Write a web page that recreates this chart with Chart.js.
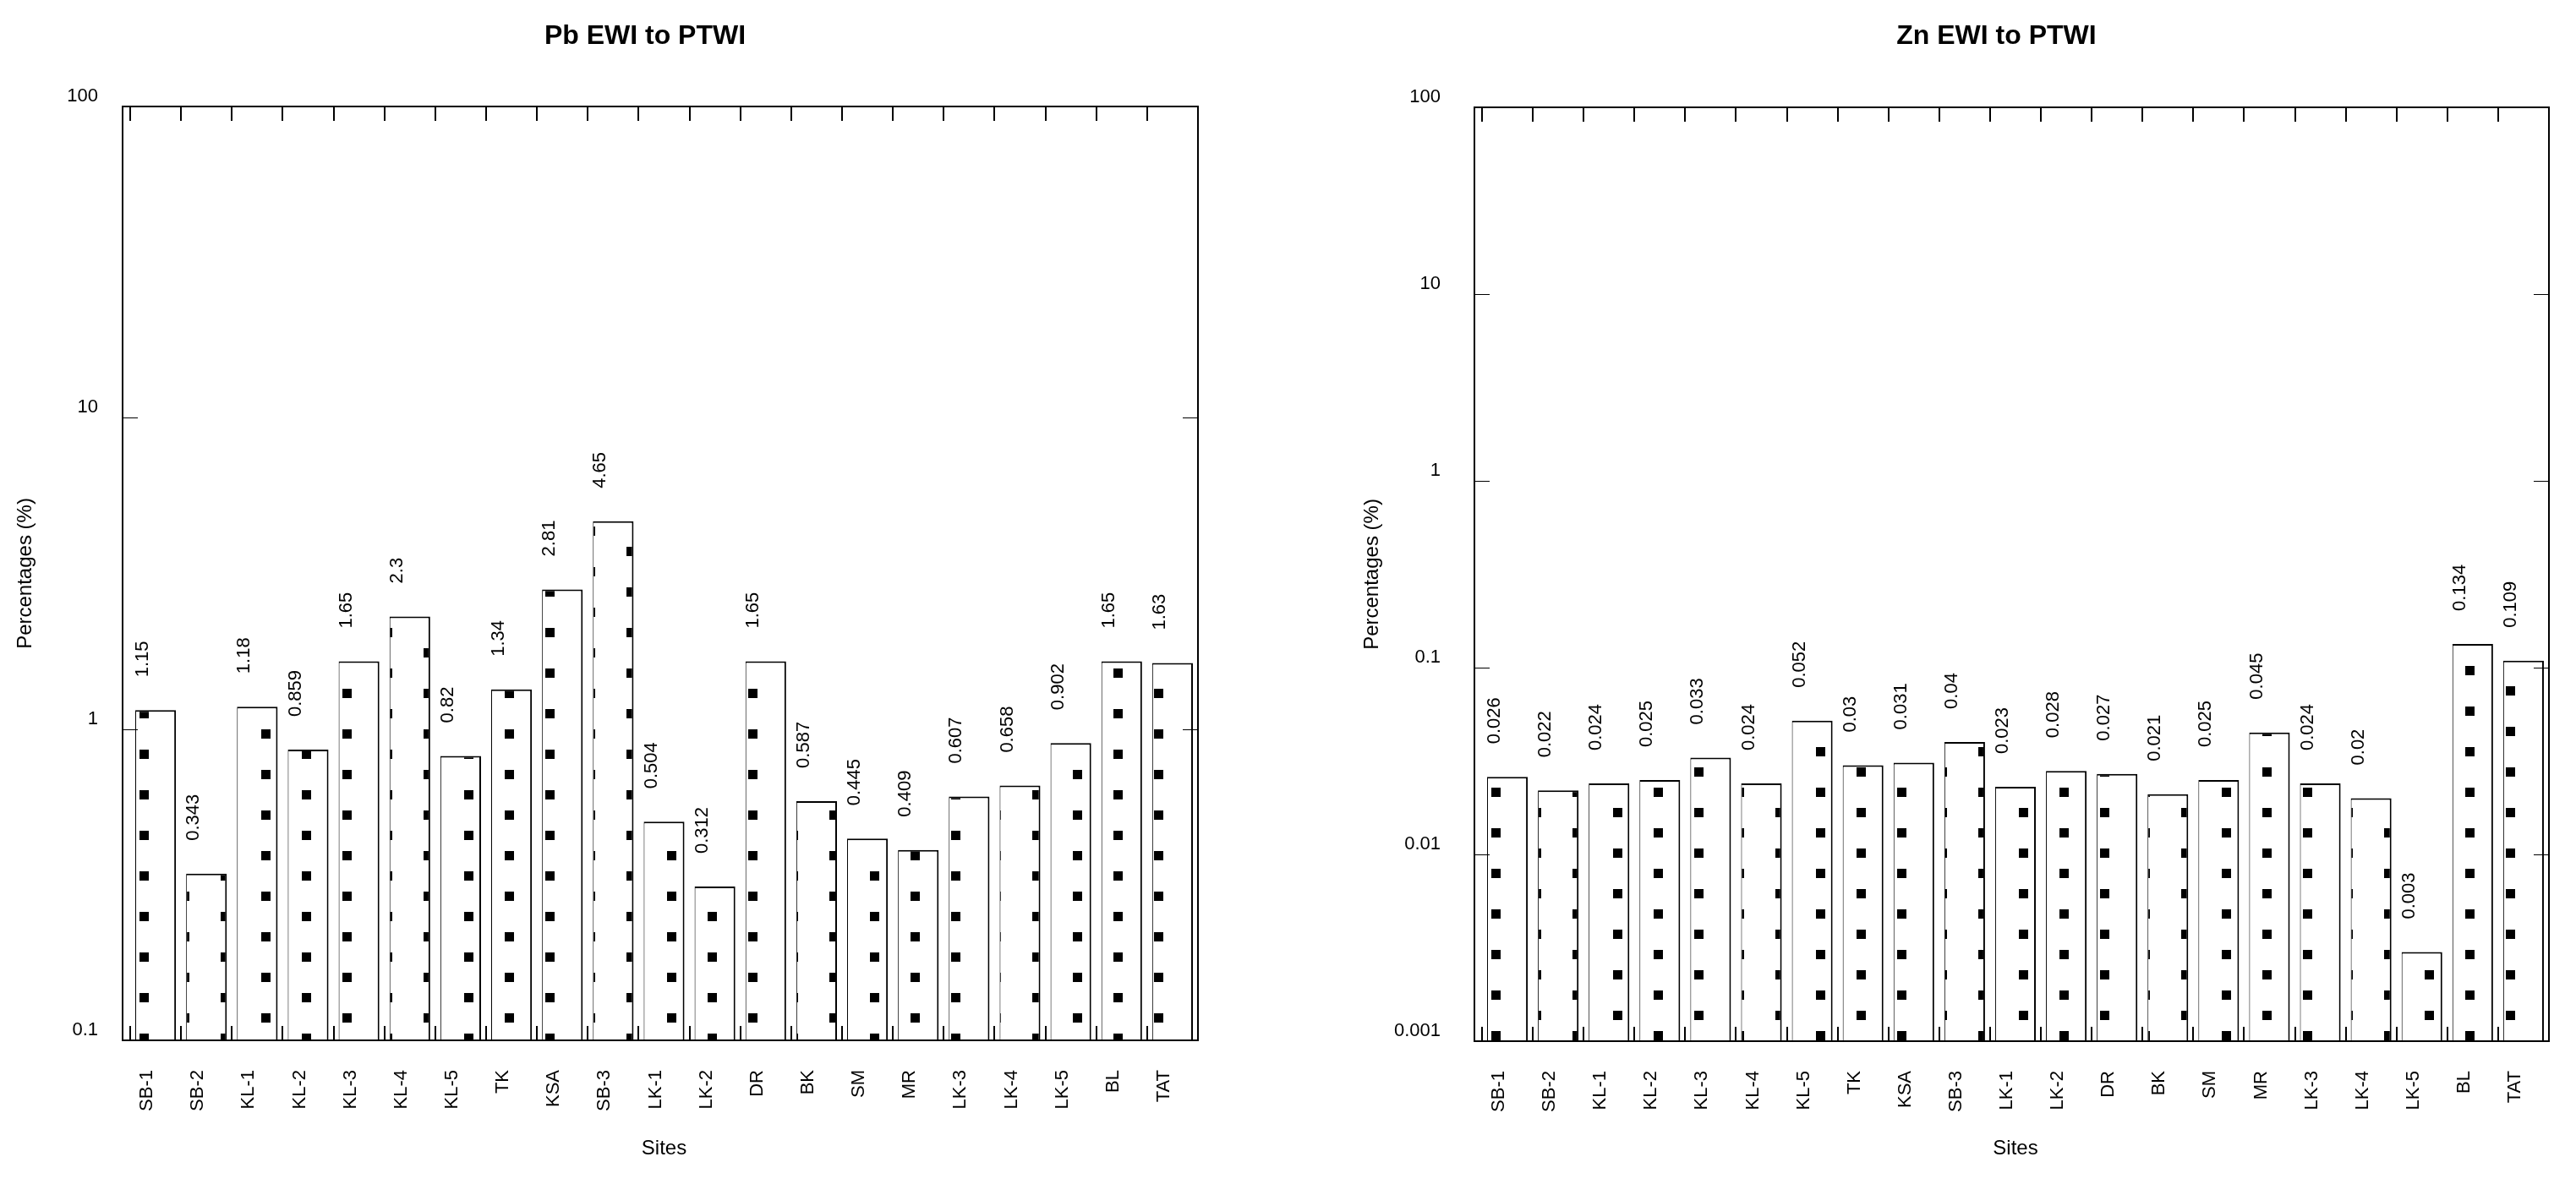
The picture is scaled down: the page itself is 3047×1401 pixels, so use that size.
<!DOCTYPE html>
<html>
<head>
<meta charset="utf-8">
<title>Pb and Zn EWI to PTWI</title>
<script src="https://cdn.jsdelivr.net/npm/chart.js@4.4.1/dist/chart.umd.min.js"></script>
<style>
  html, body { margin: 0; padding: 0; background: #fff; }
  body { width: 3047px; height: 1401px; position: relative; overflow: hidden; }
  canvas { position: absolute; top: 0; }
  #pbChart { left: 0; }
  #znChart { left: 1523px; }
</style>
</head>
<body>
<canvas id="pbChart" width="1523" height="1401"></canvas>
<canvas id="znChart" width="1524" height="1401"></canvas>
<script>
// Sampling sites (x axis)
const SITES = ["SB-1", "SB-2", "KL-1", "KL-2", "KL-3", "KL-4", "KL-5", "TK", "KSA", "SB-3",
  "LK-1", "LK-2", "DR", "BK", "SM", "MR", "LK-3", "LK-4", "LK-5", "BL", "TAT"];

// EWI as % of PTWI
const PB_VALUES = [1.15, 0.343, 1.18, 0.859, 1.65, 2.3, 0.82, 1.34, 2.81, 4.65,
  0.504, 0.312, 1.65, 0.587, 0.445, 0.409, 0.607, 0.658, 0.902, 1.65, 1.63];
const ZN_VALUES = [0.026, 0.022, 0.024, 0.025, 0.033, 0.024, 0.052, 0.03, 0.031, 0.04,
  0.023, 0.028, 0.027, 0.021, 0.025, 0.045, 0.024, 0.02, 0.003, 0.134, 0.109];

// Log axis ticks
const PB_TICKS = [0.1, 1, 10, 100];
const ZN_TICKS = [0.001, 0.01, 0.1, 1, 10, 100];

Chart.defaults.font.family = '"Liberation Sans", Arial, sans-serif';
Chart.defaults.color = "#000";

// Dotted fill: two 11px squares per 96x48 tile
function dotPattern(ctx, a, b) {
  const c = document.createElement("canvas");
  c.width = 96;
  c.height = 48;
  const g = c.getContext("2d");
  g.fillStyle = "#fff";
  g.fillRect(0, 0, 96, 48);
  g.fillStyle = "#000";
  [a, b].forEach(p => {
    for (const dx of [-96, 0, 96]) {
      for (const dy of [-48, 0, 48]) g.fillRect(p[0] + dx, p[1] + dy, 11, 11);
    }
  });
  return ctx.createPattern(c, "repeat");
}

// Box frame, inward ticks, value labels and title
const framePlugin = {
  id: "frame",
  afterDatasetsDraw(chart, args, opts) {
    const { ctx, chartArea: area, scales: { x, y } } = chart;
    const left = area.left - opts.inset;
    ctx.save();
    ctx.strokeStyle = "#000";

    ctx.lineWidth = 2;
    ctx.strokeRect(left, area.top, area.right - left, area.bottom - area.top);

    // y ticks on both sides
    ctx.lineWidth = 1;
    ctx.beginPath();
    y.ticks.forEach(t => {
      const py = Math.round(y.getPixelForValue(t.value)) + 0.5;
      ctx.moveTo(left, py); ctx.lineTo(left + 18, py);
      ctx.moveTo(area.right - 18, py); ctx.lineTo(area.right, py);
    });
    ctx.stroke();

    // x ticks at category boundaries, top and bottom
    ctx.lineWidth = 2;
    ctx.beginPath();
    const step = x.width / SITES.length;
    for (let i = 0; i < SITES.length; i++) {
      const px = Math.round(x.left + i * step);
      ctx.moveTo(px, area.top); ctx.lineTo(px, area.top + 17);
      ctx.moveTo(px, area.bottom); ctx.lineTo(px, area.bottom - 17);
    }
    ctx.stroke();

    // value labels above bars
    const values = chart.data.datasets[0].data;
    ctx.fillStyle = "#000";
    ctx.font = '22px "Liberation Sans", Arial, sans-serif';
    ctx.textAlign = "left";
    ctx.textBaseline = "middle";
    chart.getDatasetMeta(0).data.forEach((bar, i) => {
      ctx.save();
      ctx.translate(bar.x - 15, bar.y - 39);
      ctx.rotate(-Math.PI / 2);
      ctx.fillText(String(values[i]), 0, 0);
      ctx.restore();
    });

    // chart title
    ctx.font = 'bold 32px "Liberation Sans", Arial, sans-serif';
    ctx.textAlign = "center";
    ctx.fillText(opts.title, (left + area.right) / 2 - 18, 43);
    ctx.restore();
  }
};

function buildChart(id, title, values, ticks, cfg) {
  const canvas = document.getElementById(id);
  const ctx = canvas.getContext("2d");

  return new Chart(ctx, {
    type: "bar",
    data: {
      labels: SITES,
      datasets: [{
        data: values,
        backgroundColor: dotPattern(ctx, cfg.dotA, cfg.dotB),
        borderColor: "#000",
        borderWidth: { top: 2, left: 1, right: 2, bottom: 0 },
        borderSkipped: "start",
        categoryPercentage: 0.8,
        barPercentage: 1.0
      }]
    },
    plugins: [framePlugin],
    options: {
      responsive: false,
      animation: false,
      devicePixelRatio: 1,
      layout: { padding: { top: cfg.top, right: cfg.right, bottom: 0, left: 0 } },
      scales: {
        x: {
          type: "category",
          offset: true,
          grid: { display: false, drawTicks: false },
          border: { display: false },
          ticks: {
            autoSkip: false,
            minRotation: 90,
            maxRotation: 90,
            padding: 35,
            labelOffset: -10,
            font: { size: 22 }
          },
          title: {
            display: true,
            text: "Sites",
            font: { size: 24 },
            padding: { top: 0, bottom: 27 }
          },
          afterFit: s => { s.height = cfg.xHeight; }
        },
        y: {
          type: "logarithmic",
          min: ticks[0],
          max: ticks[ticks.length - 1],
          grid: { display: false, drawTicks: false },
          border: { display: false },
          afterBuildTicks: s => { s.ticks = ticks.map(v => ({ value: v })); },
          ticks: {
            padding: cfg.tickPad,
            labelOffset: -12,
            font: { size: 22 },
            callback: v => String(v)
          },
          title: {
            display: true,
            text: "Percentages (%)",
            font: { size: 24 },
            padding: { top: cfg.titlePad, bottom: 0 }
          },
          afterFit: s => { s.width = cfg.yWidth; }
        }
      },
      plugins: {
        legend: { display: false },
        tooltip: { enabled: false },
        frame: { inset: 9, title }
      }
    }
  });
}

buildChart("pbChart", "Pb EWI to PTWI", PB_VALUES, PB_TICKS, {
  top: 126, right: 106, xHeight: 170, yWidth: 154, tickPad: 38, titlePad: 16,
  dotA: [69, 23], dotB: [21, 47]
});

buildChart("znChart", "Zn EWI to PTWI", ZN_VALUES, ZN_TICKS, {
  top: 127, right: 28, xHeight: 169, yWidth: 230, tickPad: 49, titlePad: 86,
  dotA: [49, 20], dotB: [1, 44]
});
</script>
</body>
</html>
